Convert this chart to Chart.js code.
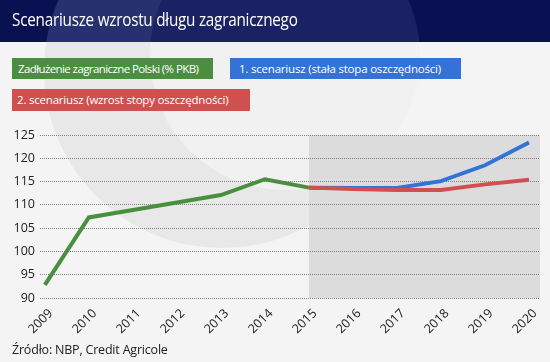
<!DOCTYPE html>
<html>
<head>
<meta charset="utf-8">
<script src="https://cdn.jsdelivr.net/npm/chart.js@4.4.1/dist/chart.umd.min.js"></script>
<style>
  html, body { margin: 0; padding: 0; }
  body { width: 550px; height: 362px; position: relative; overflow: hidden; background: #f3f3f3; font-family: 'Open Sans', sans-serif; }
  #chart { position: absolute; left: 0; top: 0; }
  .txt { position: absolute; white-space: nowrap; }
  #title { left: 12px; top: 7px; color: #fff; font-size: 18px; letter-spacing: -0.3px; transform: scaleX(0.85); transform-origin: 0 50%; }
  .leg { position: absolute; color: #fff; font-size: 11.5px; line-height: 21px; height: 21px; white-space: nowrap; letter-spacing: -0.2px; }
  #leg1 { left: 12px; top: 58px; width: 201px; background: #4a8f3f; text-indent: 6px; letter-spacing: -0.6px; }
  #leg2 { left: 230px; top: 58px; width: 231px; background: #3373d8; text-indent: 9px; }
  #leg3 { left: 12px; top: 89px; width: 238px; height: 22px; line-height: 22px; background: #d05050; text-indent: 5px; }
  #source { left: 12px; top: 341px; color: #222; font-size: 12.5px; letter-spacing: -0.2px; }
</style>
</head>
<body>
<canvas id="chart" width="550" height="362"></canvas>
<div class="txt" id="title">Scenariusze wzrostu długu zagranicznego</div>
<div class="leg" id="leg1">Zadłużenie zagraniczne Polski (% PKB)</div>
<div class="leg" id="leg2">1. scenariusz (stała stopa oszczędności)</div>
<div class="leg" id="leg3">2. scenariusz (wzrost stopy oszczędności)</div>
<div class="txt" id="source">Źródło: NBP, Credit Agricole</div>
<script>
const years = [2009, 2010, 2011, 2012, 2013, 2014, 2015, 2016, 2017, 2018, 2019, 2020];
const historyYears = [2009, 2010, 2011, 2012, 2013, 2014, 2015];
const historyDebt = [92.8, 107.3, 108.9, 110.5, 112.1, 115.5, 113.7];
const scenarioYears = [2015, 2016, 2017, 2018, 2019, 2020];
const scenario1 = [113.7, 113.6, 113.6, 115.1, 118.5, 123.4];
const scenario2 = [113.7, 113.4, 113.2, 113.2, 114.4, 115.4];
const yTicks = [90, 95, 100, 105, 110, 115, 120, 125];
const forecastStart = 2015;

function points(xs, ys) {
  return xs.map((x, i) => ({ x: x, y: ys[i] }));
}

// znak wodny: pierscien (C) w tle
function watermark(ctx, ring, inner) {
  ctx.fillStyle = ring;
  ctx.beginPath();
  ctx.arc(222, 70, 178, 0, Math.PI * 2);
  ctx.fill();
  ctx.fillStyle = inner;
  ctx.beginPath();
  ctx.arc(285, 55, 135, 0, Math.PI * 2);
  ctx.fill();
}

// tlo, naglowek i zacieniony okres prognozy
const backdrop = {
  id: 'backdrop',
  beforeDraw(chart) {
    const ctx = chart.ctx;
    const area = chart.chartArea;
    ctx.save();
    ctx.fillStyle = '#f4f4f4';
    ctx.fillRect(0, 0, 550, 362);
    watermark(ctx, '#e8e8e8', '#f1f1f1');

    ctx.beginPath();
    ctx.rect(0, 0, 550, 42);
    ctx.clip();
    ctx.fillStyle = '#0a1152';
    ctx.fillRect(0, 0, 550, 42);
    watermark(ctx, '#283170', '#1a2263');
    ctx.restore();

    ctx.save();
    const x0 = chart.scales.x.getPixelForValue(forecastStart);
    ctx.fillStyle = '#dcdcdc';
    ctx.fillRect(x0, area.top, area.right - x0, area.bottom - area.top);
    ctx.restore();
  }
};

new Chart(document.getElementById('chart'), {
  type: 'line',
  data: {
    datasets: [
      {
        label: 'Zadłużenie zagraniczne Polski (% PKB)',
        data: points(historyYears, historyDebt),
        borderColor: '#4a8f3f'
      },
      {
        label: '2. scenariusz (wzrost stopy oszczędności)',
        data: points(scenarioYears, scenario2),
        borderColor: '#d05050'
      },
      {
        label: '1. scenariusz (stała stopa oszczędności)',
        data: points(scenarioYears, scenario1),
        borderColor: '#3373d8'
      }
    ]
  },
  options: {
    responsive: false,
    animation: false,
    layout: { padding: { top: 135, right: 10, left: 0, bottom: 0 } },
    elements: {
      line: { borderWidth: 4, tension: 0, fill: false, borderCapStyle: 'butt' },
      point: { radius: 0, hoverRadius: 0 }
    },
    plugins: {
      legend: { display: false },
      tooltip: { enabled: false }
    },
    scales: {
      x: {
        type: 'linear',
        min: 2008.89,
        max: 2020.25,
        afterBuildTicks: s => { s.ticks = years.map(v => ({ value: v })); },
        afterFit: s => { s.height = 64; },
        grid: { display: false, drawTicks: false },
        border: { display: false },
        ticks: {
          color: '#222',
          font: { family: 'Open Sans', size: 12.5 },
          minRotation: 45,
          maxRotation: 45,
          padding: 8,
          labelOffset: 6,
          callback: v => String(v)
        }
      },
      y: {
        min: 90,
        max: 125,
        afterBuildTicks: s => { s.ticks = yTicks.map(v => ({ value: v })); },
        afterFit: s => { s.width = 40; },
        grid: { color: '#808080', lineWidth: 1, drawTicks: false },
        border: { display: false, dash: [1, 1] },
        ticks: {
          color: '#222',
          font: { family: 'Open Sans', size: 12.5 },
          padding: 5
        }
      }
    }
  },
  plugins: [backdrop]
});
</script>
</body>
</html>
